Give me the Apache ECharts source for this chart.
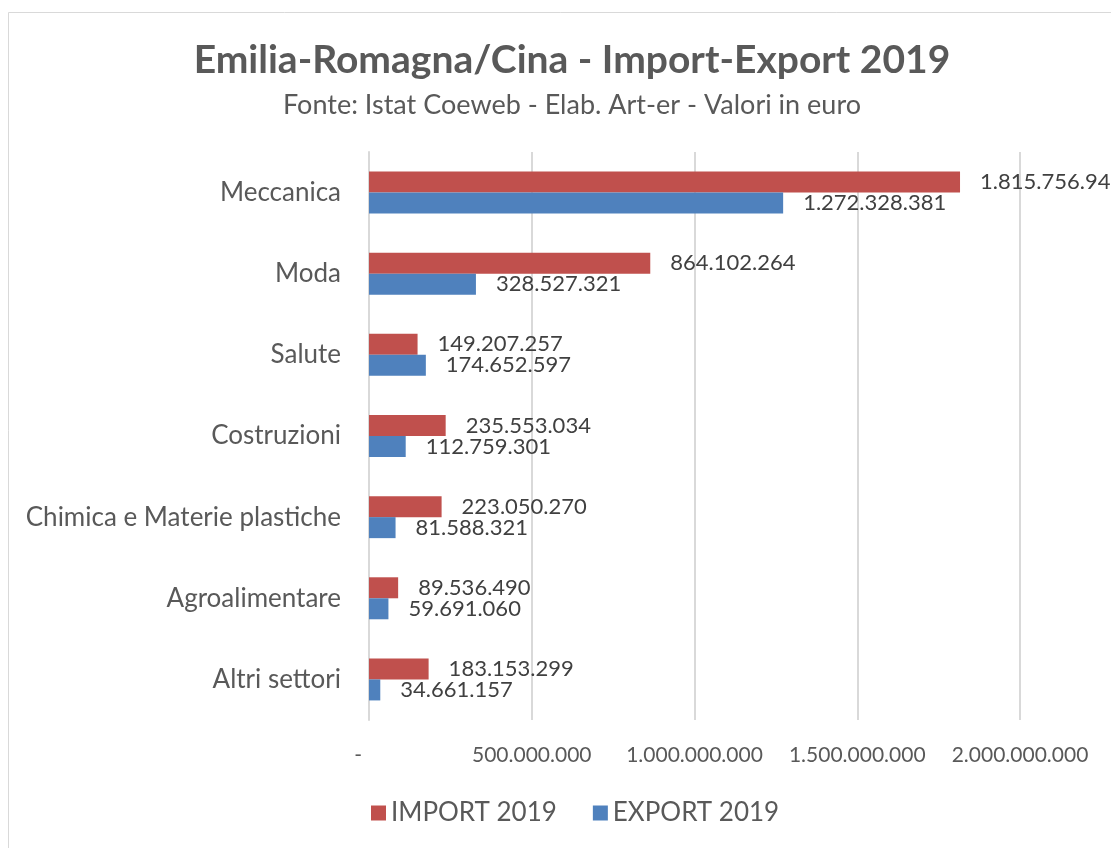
<!DOCTYPE html>
<html style="height: 100%">
<head>
	<meta charset="utf-8">
</head>
<body style="height: 100%; margin: 0; background: #fff">
<div id="container" style="width: 1111px; height: 848px"></div>
<script type="text/javascript" src="https://cdn.jsdelivr.net/npm/echarts@6/dist/echarts.min.js"></script>
<script type="text/javascript">
    var categories = ['Meccanica', 'Moda', 'Salute', 'Costruzioni', 'Chimica e Materie plastiche', 'Agroalimentare', 'Altri settori'];
    var import2019 = [1815756943, 864102264, 149207257, 235553034, 223050270, 89536490, 183153299];
    var export2019 = [1272328381, 328527321, 174652597, 112759301, 81588321, 59691060, 34661157];
    var axisTicks = [0, 500000000, 1000000000, 1500000000, 2000000000];

    var font = 'Lato, "Open Sans", sans-serif';

    function dotted(v) {
        return String(Math.round(v)).replace(/\B(?=(\d{3})+(?!\d))/g, '.');
    }

    var dom = document.getElementById("container");
    var myChart = echarts.init(dom);
    var option = {
        backgroundColor: '#fff',
        animation: false,
        graphic: [{
            type: 'rect',
            shape: {x: 8.5, y: 12.5, width: 1300, height: 1000},
            style: {fill: 'none', stroke: '#d9d9d9', lineWidth: 1}
        }],
        title: [{
            text: 'Emilia-Romagna/Cina - Import-Export 2019',
            left: 567,
            top: 36,
            textAlign: 'center',
            textStyle: {fontFamily: font, fontSize: 39, fontWeight: 'bold', color: '#595959'}
        }, {
            text: 'Fonte: Istat Coeweb - Elab. Art-er - Valori in euro',
            left: 567,
            top: 87,
            textAlign: 'center',
            textStyle: {fontFamily: font, fontSize: 27, fontWeight: 'normal', color: '#595959'}
        }],
        legend: {
            left: 366,
            top: 795,
            itemWidth: 15,
            itemHeight: 15,
            itemGap: 36,
            icon: 'rect',
            textStyle: {fontFamily: font, fontSize: 26, color: '#595959'},
            data: ['IMPORT 2019', 'EXPORT 2019']
        },
        grid: {
            left: 369,
            right: 91,
            top: 152,
            bottom: 128,
            containLabel: false
        },
        xAxis: {
            type: 'value',
            min: axisTicks[0],
            max: axisTicks[axisTicks.length - 1],
            interval: axisTicks[1] - axisTicks[0],
            axisLine: {show: false},
            axisTick: {show: false},
            splitLine: {lineStyle: {color: '#d9d9d9', width: 2}},
            axisLabel: {
                margin: 25,
                fontFamily: font,
                fontSize: 21,
                color: '#595959',
                formatter: function (v) {
                    return v === 0 ? '-    ' : dotted(v);
                }
            }
        },
        yAxis: {
            type: 'category',
            inverse: true,
            data: categories,
            axisLine: {lineStyle: {color: '#d9d9d9', width: 2}},
            axisTick: {show: false},
            axisLabel: {margin: 28, fontFamily: font, fontSize: 26, color: '#595959'}
        },
        series: [{
            name: 'IMPORT 2019',
            type: 'bar',
            data: import2019,
            barWidth: 21,
            barGap: '0%',
            itemStyle: {color: '#c0504d'},
            label: {
                show: true,
                position: 'right',
                distance: 20,
                fontFamily: font,
                fontSize: 22,
                color: '#404040',
                formatter: function (p) { return dotted(p.value); }
            }
        }, {
            name: 'EXPORT 2019',
            type: 'bar',
            data: export2019,
            barWidth: 21,
            barGap: '0%',
            itemStyle: {color: '#4f81bd'},
            label: {
                show: true,
                position: 'right',
                distance: 20,
                fontFamily: font,
                fontSize: 22,
                color: '#404040',
                formatter: function (p) { return dotted(p.value); }
            }
        }]
    };

    if (option && typeof option === "object") {
        myChart.setOption(option, true);
    }
</script>
</body>
</html>
